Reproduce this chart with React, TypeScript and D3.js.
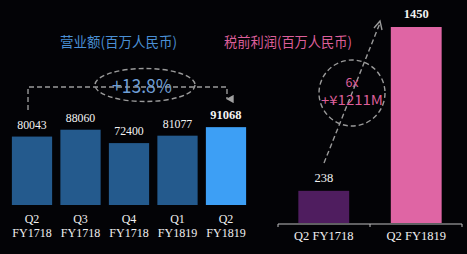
import React from "react";
import * as d3 from "d3";

const revCats = ["Q2|FY1718", "Q3|FY1718", "Q4|FY1718", "Q1|FY1819", "Q2|FY1819"];
const revValues = [80043, 88060, 72400, 81077, 91068];
const profitCats = ["Q2 FY1718", "Q2 FY1819"];
const profitValues = [238, 1450];
const revTitle = "营业额(百万人民币)";
const profitTitle = "税前利润(百万人民币)";
const revGrowth = "+13.8%";
const profitGrowth = ["6x", "+¥1211M"];

const W = 467, H = 254;

export default function App() {
  const serif = "'Liberation Serif', 'DejaVu Serif', serif";
  const sans = "'Noto Sans CJK SC', 'Noto Sans', sans-serif";

  const xL = d3.scaleBand<number>().domain(d3.range(revValues.length)).range([8, 250]).paddingInner(0.17).paddingOuter(0.08);
  const yL = d3.scaleLinear().domain([0, 100000]).range([205, 119.5]);
  const xR = d3.scaleBand<number>().domain(d3.range(profitValues.length)).range([278, 462]).paddingInner(0.45).paddingOuter(0.22);
  const yR = d3.scaleLinear().domain([0, 1450]).range([223, 27]);

  const c0 = xL(0)! + xL.bandwidth() / 2 - 4;
  const c4 = xL(4)! + xL.bandwidth() / 2 + 1;
  const dash = "#9a9a9a";

  return (
    <svg width={W} height={H} style={{ position: "absolute", left: 0, top: 0, background: "#030306" }}>
      <rect x={0} y={0} width={W} height={H} fill="#030306" />
      <defs>
        <marker id="arrL" viewBox="0 0 10 10" refX="5" refY="8" markerWidth="6" markerHeight="6" orient="auto">
          <path d="M0,0 L10,0 L5,9 Z" fill="#a0a0a0" />
        </marker>
      </defs>
      <text x={60} y={47} textLength={117} lengthAdjust="spacingAndGlyphs" fontFamily={sans} fontSize={14.2} fill="#4a8fd4">{revTitle}</text>
      {revValues.map((v, i) => (
        <g key={i}>
          <rect x={xL(i)} y={yL(v)} width={xL.bandwidth()} height={yL(0) - yL(v)} fill={i === 4 ? "#3d9ff5" : "#245a8d"} />
          <text x={xL(i)! + xL.bandwidth() / 2} y={yL(v) - 8} textAnchor="middle" fontFamily={serif} fontSize={i === 4 ? 12.5 : 11.8}
            fontWeight={i === 4 ? "bold" : "normal"} fill="#f2f2f2">{v}</text>
          {revCats[i].split("|").map((t, j) => (
            <text key={j} x={xL(i)! + xL.bandwidth() / 2} y={223 + j * 14} textAnchor="middle" fontFamily={serif} fontSize={12} fill="#f0f0f0">{t}</text>
          ))}
        </g>
      ))}
      <path d={`M${c0},110 L${c0},87 L${c4},87 L${c4},99`} fill="none" stroke={dash} strokeWidth={1.4} strokeDasharray="5,3" markerEnd="url(#arrL)" />
      <ellipse cx={145} cy={85} rx={50} ry={16.5} fill="none" stroke={dash} strokeWidth={1.4} strokeDasharray="5,3" />
      <text x={112} y={93} textLength={60} lengthAdjust="spacingAndGlyphs" fontFamily={sans} fontSize={19} fill="#6f9fd6">{revGrowth}</text>

      <text x={224} y={47} textLength={128} lengthAdjust="spacingAndGlyphs" fontFamily={sans} fontSize={14.2} fill="#dc5f9a">{profitTitle}</text>
      {profitValues.map((v, i) => (
        <g key={i}>
          <rect x={xR(i)} y={yR(v)} width={xR.bandwidth()} height={yR(0) - yR(v)} fill={i === 0 ? "#4f1d5f" : "#df65a4"} />
          <text x={xR(i)! + xR.bandwidth() / 2} y={yR(v) - 9} textAnchor="middle" fontFamily={serif} fontSize={12.5}
            fontWeight={i === 1 ? "bold" : "normal"} fill="#f2f2f2">{v}</text>
          <text x={xR(i)! + xR.bandwidth() / 2} y={240} textAnchor="middle" fontFamily={serif} fontSize={12.5} fill="#f0f0f0">{profitCats[i]}</text>
        </g>
      ))}
      <path d={`M278,227 L278,224 L462,224 L462,227 M370,224 L370,227`} fill="none" stroke="#bfbfbf" strokeWidth={1} />
      <line x1={324} y1={163} x2={380} y2={23} stroke={dash} strokeWidth={1.4} strokeDasharray="5,3" />
      <path d="M374,28 L380,21 L382,30" fill="none" stroke={dash} strokeWidth={1.4} />
      <circle cx={352} cy={93} r={33} fill="none" stroke={dash} strokeWidth={1.4} strokeDasharray="5,3" />
      <text x={352} y={87} textAnchor="middle" fontFamily={sans} fontSize={12.5} fill="#dc5f9a">{profitGrowth[0]}</text>
      <text x={321} y={105} textLength={62} lengthAdjust="spacingAndGlyphs" fontFamily={sans} fontSize={13} fill="#dc5f9a">{profitGrowth[1]}</text>
    </svg>
  );
}
